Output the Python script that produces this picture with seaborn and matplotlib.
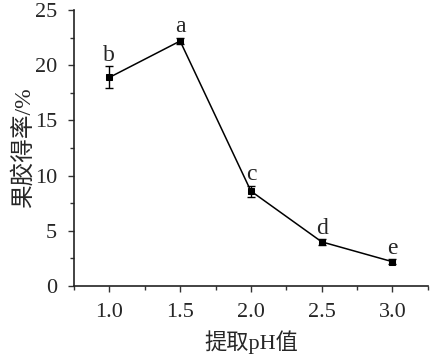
import numpy as np
import pandas as pd
import matplotlib
matplotlib.use("Agg")
import matplotlib.pyplot as plt
from matplotlib.ticker import MultipleLocator, FormatStrFormatter
import seaborn as sns

ph = [1.0, 1.5, 2.0, 2.5, 3.0]
yield_pct = [18.9, 22.2, 8.6, 4.0, 2.2]
err = [1.0, 0.3, 0.5, 0.25, 0.2]
letters = ["b", "a", "c", "d", "e"]

sns.set_style("ticks")
plt.rcParams['font.family'] = ['Liberation Serif', 'Noto Sans CJK SC']
plt.rcParams['xtick.direction'] = 'out'
plt.rcParams['ytick.direction'] = 'out'

df = pd.DataFrame({"ph": ph, "y": yield_pct})

fig = plt.figure(figsize=(4.3, 3.62), dpi=100)
ax = fig.add_axes([0.172, 0.21, 0.823, 0.762])

ax.errorbar(ph, yield_pct, yerr=err, fmt='none', ecolor='black',
            elinewidth=1, capsize=3, capthick=1)
sns.lineplot(data=df, x="ph", y="y", ax=ax, color='black', lw=1.1,
             marker='s', markersize=5, markeredgecolor='black')

for x, y, e, t in zip(ph, yield_pct, err, letters):
    ax.text(x, y + e + 0.05, t, ha='center', va='bottom', fontsize=17,
            family=['Liberation Serif'])

ax.set_xlim(0.75, 3.25)
ax.set_ylim(0, 25)
ax.xaxis.set_major_locator(MultipleLocator(0.5))
ax.xaxis.set_minor_locator(MultipleLocator(0.25))
ax.yaxis.set_major_locator(MultipleLocator(5))
ax.yaxis.set_minor_locator(MultipleLocator(2.5))
ax.xaxis.set_major_formatter(FormatStrFormatter('%.1f'))
ax.tick_params(which='major', length=4, width=1, labelsize=16, color='#333333')
ax.tick_params(which='minor', length=3, width=1, color='#333333')
ax.tick_params(axis='x', pad=8)
ax.tick_params(axis='y', pad=8)

for s in ['top', 'right']:
    ax.spines[s].set_visible(False)
for s in ['left', 'bottom']:
    ax.spines[s].set_linewidth(1.2)
    ax.spines[s].set_color('#222222')

ax.set_xlabel("提取pH值", fontsize=16, labelpad=6)
ax.set_ylabel("果胶得率/%", fontsize=17, labelpad=0)

fig.savefig("out.png", dpi=100)
